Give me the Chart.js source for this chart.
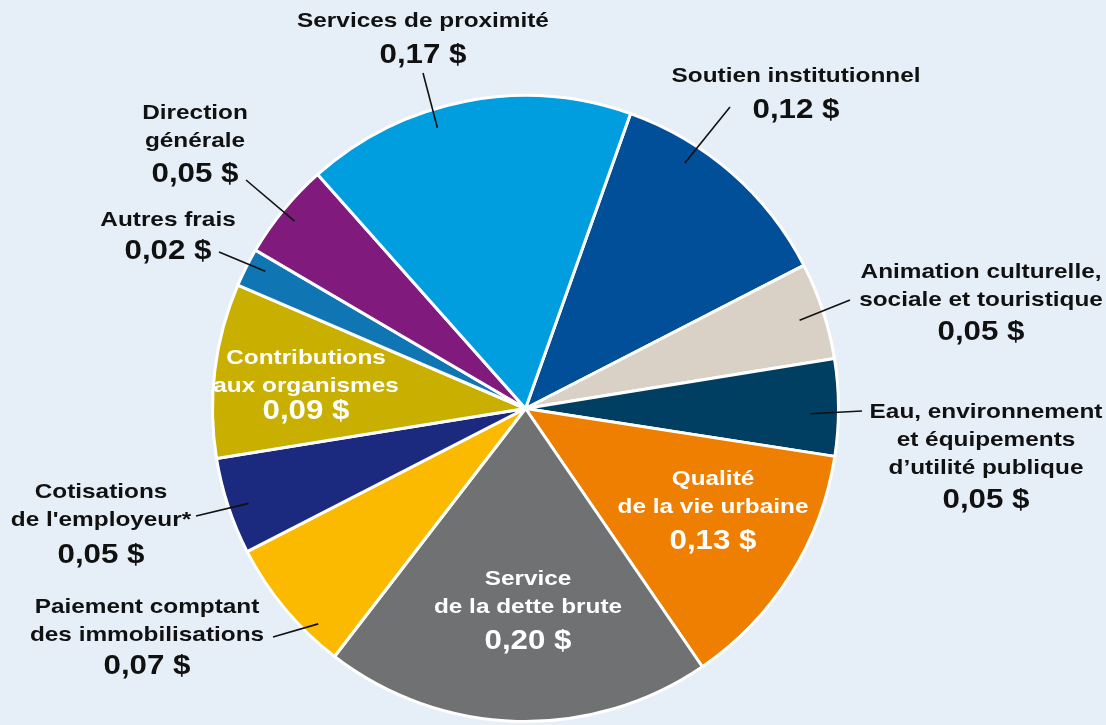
<!DOCTYPE html>
<html>
<head>
<meta charset="utf-8">
<script src="https://cdn.jsdelivr.net/npm/chart.js@4/dist/chart.umd.min.js"></script>
<style>
  html, body { margin: 0; padding: 0; background: #e6eef7; }
  #wrap { width: 1106px; height: 725px; }
</style>
</head>
<body>
<div id="wrap"><canvas id="pie"></canvas></div>
<script>
// données (ordre horaire à partir de Soutien institutionnel)
const categories = [
    'Soutien institutionnel',
    'Animation culturelle, sociale et touristique',
    'Eau, environnement et équipements d’utilité publique',
    'Qualité de la vie urbaine',
    'Service de la dette brute',
    'Paiement comptant des immobilisations',
    "Cotisations de l'employeur*",
    'Contributions aux organismes',
    'Autres frais',
    'Direction générale',
    'Services de proximité'
];
const values = [0.12, 0.05, 0.05, 0.13, 0.20, 0.07, 0.05, 0.09, 0.02, 0.05, 0.17];
const valueLabels = ['0,12 $', '0,05 $', '0,05 $', '0,13 $', '0,20 $', '0,07 $', '0,05 $', '0,09 $', '0,02 $', '0,05 $', '0,17 $'];
const colors = ['#004f98', '#d9d1c6', '#003f61', '#ee7f00', '#707173', '#fbba00',
                '#1b2a7f', '#c8af00', '#0f76b3', '#801a7d', '#009ddf'];

// étiquettes : lignes de texte, position du texte, couleur, trait de rappel
const labelLayout = [
    { lines: ['Soutien institutionnel'], x: 796, y: 76, vy: 111, leader: [730, 107, 0.31, 0.935] },
    { lines: ['Animation culturelle,', 'sociale et touristique'], x: 981, y: 272, vy: 333, leader: [850, 300, 0.52, 0.92] },
    { lines: ['Eau, environnement', 'et équipements', 'd’utilité publique'], x: 986, y: 412, vy: 501, leader: [862, 411, 0.57, 0.91] },
    { lines: ['Qualité', 'de la vie urbaine'], x: 713, y: 479, vy: 542, white: true },
    { lines: ['Service', 'de la dette brute'], x: 528, y: 579, vy: 642, white: true },
    { lines: ['Paiement comptant', 'des immobilisations'], x: 147, y: 607, vy: 667, leader: [273, 637, 0.25, 0.955] },
    { lines: ['Cotisations', "de l'employeur*"], x: 101, y: 492, vy: 556, leader: [196, 516, 0.46, 0.935] },
    { lines: ['Contributions', 'aux organismes'], x: 306, y: 358, vy: 412, white: true },
    { lines: ['Autres frais'], x: 168, y: 220, vy: 252, leader: [219, 252, 0.64, 0.94] },
    { lines: ['Direction', 'générale'], x: 195, y: 113, vy: 175, leader: [246, 180, 0.48, 0.95] },
    { lines: ['Services de proximité'], x: 423, y: 21, vy: 56, leader: [423, 73, 0.395, 0.94] }
];

// texte un peu élargi pour imiter la police d'origine
function wideText(ctx, txt, x, y) {
    ctx.save();
    ctx.translate(x, y);
    ctx.scale(1.16, 1);
    ctx.fillText(txt, 0, 0);
    ctx.restore();
}

const labelPlugin = {
    id: 'pieLabels',
    afterDatasetsDraw(chart) {
        const ctx = chart.ctx;
        const arcs = chart.getDatasetMeta(0).data;
        ctx.save();
        labelLayout.forEach((lab, i) => {
            const fg = lab.white ? '#ffffff' : '#111111';
            if (lab.leader) {
                const p = arcs[i].getProps(['x', 'y', 'startAngle', 'endAngle', 'outerRadius'], true);
                const ang = p.startAngle + (p.endAngle - p.startAngle) * lab.leader[2];
                const r = p.outerRadius * lab.leader[3];
                ctx.beginPath();
                ctx.moveTo(lab.leader[0], lab.leader[1]);
                ctx.lineTo(p.x + Math.cos(ang) * r, p.y + Math.sin(ang) * r);
                ctx.strokeStyle = '#111111';
                ctx.lineWidth = 1.6;
                ctx.stroke();
            }
            ctx.fillStyle = fg;
            ctx.textAlign = 'center';
            ctx.textBaseline = 'middle';
            ctx.font = 'bold 21px "Liberation Sans", Arial, sans-serif';
            lab.lines.forEach((t, k) => wideText(ctx, t, lab.x, lab.y + k * 28));
            ctx.font = 'bold 27px "Liberation Sans", Arial, sans-serif';
            wideText(ctx, valueLabels[i], lab.x, lab.vy);
        });
        ctx.restore();
    }
};

new Chart(document.getElementById('pie').getContext('2d'), {
    type: 'pie',
    data: {
        labels: categories,
        datasets: [{
            data: values,
            backgroundColor: colors,
            borderColor: '#ffffff',
            borderWidth: 3
        }]
    },
    options: {
        responsive: true,
        maintainAspectRatio: false,
        animation: false,
        rotation: 19.6,
        layout: { padding: { left: 211, right: 266, top: 94, bottom: 2 } },
        plugins: {
            legend: { display: false },
            tooltip: { enabled: false }
        }
    },
    plugins: [labelPlugin]
});
</script>
</body>
</html>
